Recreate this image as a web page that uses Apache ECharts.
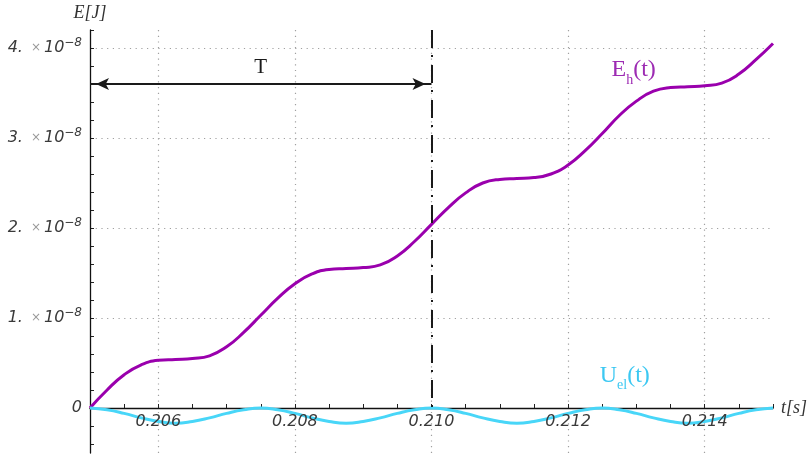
<!DOCTYPE html>
<html>
<head>
<meta charset="utf-8">
<script src="https://cdn.jsdelivr.net/npm/echarts@6/dist/echarts.min.js"></script>
<style>
  html, body { margin: 0; padding: 0; background: #ffffff; }
  #chart { width: 810px; height: 459px; }
</style>
</head>
<body>
<div id="chart"></div>
<script>
// Sample times, s
const time = [
  0.205, 0.20525, 0.2055, 0.20575, 0.206, 0.20625, 0.2065, 0.20675, 0.207, 0.20725,
  0.2075, 0.20775, 0.208, 0.20825, 0.2085, 0.20875, 0.209, 0.20925, 0.2095, 0.20975,
  0.21, 0.21025, 0.2105, 0.21075, 0.211, 0.21125, 0.2115, 0.21175, 0.212, 0.21225,
  0.2125, 0.21275, 0.213, 0.21325, 0.2135, 0.21375, 0.214, 0.21425, 0.2145, 0.21475,
  0.215
];
// Heat dissipated E_h(t), in units of 1e-8 J
const heatEnergy = [
  0, 0.20, 0.37, 0.48, 0.53, 0.54, 0.55, 0.58, 0.68, 0.84,
  1.03, 1.22, 1.38, 1.49, 1.54, 1.55, 1.56, 1.59, 1.69, 1.85,
  2.04, 2.23, 2.39, 2.50, 2.54, 2.55, 2.56, 2.60, 2.70, 2.86,
  3.05, 3.25, 3.41, 3.52, 3.56, 3.57, 3.58, 3.61, 3.71, 3.87,
  4.05
];
// Electric field energy U_el(t), in units of 1e-8 J
const fieldEnergy = [
  0, -0.02, -0.06, -0.11, -0.15, -0.17, -0.15, -0.11, -0.06, -0.02,
  0, -0.02, -0.06, -0.11, -0.15, -0.17, -0.15, -0.11, -0.06, -0.02,
  0, -0.02, -0.06, -0.11, -0.15, -0.17, -0.15, -0.11, -0.06, -0.02,
  0, -0.02, -0.06, -0.11, -0.15, -0.17, -0.15, -0.11, -0.06, -0.02,
  0
];
// Labelled ticks
const xTickLabels = [0.206, 0.208, 0.210, 0.212, 0.214];
const yTickLabels = [0, 1, 2, 3, 4];
// One period T of the current
const period = [0.205, 0.210];

const PURPLE = '#9a00ad';
const CYAN = '#48d6f8';
const LABEL_FONT = 'DejaVu Sans';
const SERIF = 'Liberation Serif';
const dotted = { color: '#a0a0a0', width: 1.2, type: [1.2, 4.5] };

const heatData = time.map((t, i) => [t, heatEnergy[i]]);
const fieldData = time.map((t, i) => [t, fieldEnergy[i]]);

function xLabel(v) {
  return xTickLabels.some(t => Math.abs(t - v) < 1e-7) ? v.toFixed(3) : '';
}
function yLabel(v) {
  const r = Math.round(v);
  if (Math.abs(v - r) > 1e-6 || !yTickLabels.includes(r)) return '';
  if (r === 0) return '{n|0}';
  return '{n|' + r + '.}{x|×}{n|10}{s|−8}';
}

const chart = echarts.init(document.getElementById('chart'), null, { renderer: 'canvas' });

chart.setOption({
  animation: false,
  backgroundColor: '#ffffff',
  grid: [
    // plotting area
    { left: 90, top: 30, width: 683, height: 423, containLabel: false, outerBoundsMode: 'none' },
    // y ticks, y labels, horizontal grid lines, x labels
    { left: 90, top: 30, width: 683, height: 468, containLabel: false, outerBoundsMode: 'none' },
    // vertical grid lines
    { left: 158.3, top: 30, width: 614.7, height: 423, containLabel: false, outerBoundsMode: 'none' }
  ],
  xAxis: [
    {
      gridIndex: 0, type: 'value', min: 0.205, max: 0.215, interval: 0.0005, z: 1,
      axisLine: { show: true, onZero: true, lineStyle: { color: '#111', width: 1.3 } },
      axisTick: { show: true, inside: true, length: 4, lineStyle: { color: '#222', width: 1 } },
      axisLabel: { show: false },
      splitLine: { show: false },
      name: 't[s]', nameLocation: 'end', nameGap: 8,
      nameTextStyle: { fontFamily: SERIF, fontStyle: 'italic', fontSize: 18, color: '#333' }
    },
    {
      // tick labels, lifted from the grid bottom (value -1) up to value 0
      gridIndex: 1, type: 'value', min: 0.205, max: 0.215, interval: 0.0005, z: 5,
      position: 'bottom', offset: -90,
      axisLine: { show: false, onZero: false },
      axisTick: { show: false },
      axisLabel: {
        show: true, formatter: xLabel, margin: 6,
        fontFamily: LABEL_FONT, fontStyle: 'italic', fontSize: 16, color: '#3a3a3a'
      },
      splitLine: { show: false }
    },
    {
      gridIndex: 2, type: 'value', min: 0.206, max: 0.215, interval: 0.002,
      axisLine: { show: false }, axisTick: { show: false }, axisLabel: { show: false },
      splitLine: { show: true, showMinLine: true, showMaxLine: false, lineStyle: dotted }
    }
  ],
  yAxis: [
    {
      gridIndex: 0, type: 'value', min: -0.5, max: 4.2, z: 1,
      axisLine: { show: true, onZero: false, lineStyle: { color: '#111', width: 1.3 } },
      axisTick: { show: false }, axisLabel: { show: false }, splitLine: { show: false },
      name: 'E[J]', nameLocation: 'end', nameGap: 8,
      nameTextStyle: { fontFamily: SERIF, fontStyle: 'italic', fontSize: 18, color: '#333' }
    },
    {
      gridIndex: 1, type: 'value', min: -1, max: 4.2, interval: 1,
      axisLine: { show: false, onZero: false },
      axisTick: { show: true, inside: true, length: 4, lineStyle: { color: '#222', width: 1 } },
      minorTick: { show: true, splitNumber: 5, length: 4, lineStyle: { color: '#222', width: 1 } },
      axisLabel: {
        show: true, formatter: yLabel, margin: 8,
        rich: {
          n: { fontFamily: LABEL_FONT, fontStyle: 'italic', fontSize: 16, color: '#3a3a3a', lineHeight: 22 },
          x: { fontFamily: LABEL_FONT, fontSize: 12, color: '#9a9a9a', lineHeight: 22, padding: [0, 3, 0, 8] },
          s: { fontFamily: LABEL_FONT, fontStyle: 'italic', fontSize: 12, color: '#3a3a3a', lineHeight: 12, verticalAlign: 'top' }
        }
      },
      splitLine: { show: true, showMinLine: false, showMaxLine: false, lineStyle: dotted }
    },
    {
      gridIndex: 2, type: 'value', min: -0.5, max: 4.2, show: false
    }
  ],
  series: [
    {
      name: 'E_h', type: 'line', xAxisIndex: 0, yAxisIndex: 0,
      data: heatData, smooth: true, symbol: 'none', showSymbol: false,
      lineStyle: { color: PURPLE, width: 3 }, z: 3,
      markLine: {
        silent: true, animation: false,
        symbol: ['arrow', 'arrow'], symbolSize: [9, 13], symbolOffset: [[0, 6], [0, 6]],
        lineStyle: { color: '#1a1a1a', width: 2, type: 'solid' },
        label: {
          show: true, formatter: 'T', position: 'middle', distance: 6,
          fontFamily: SERIF, fontSize: 21, color: '#1a1a1a'
        },
        data: [[{ coord: [period[0], 3.6] }, { coord: [period[1], 3.6] }]]
      },
      markPoint: {
        silent: true, animation: false, symbol: 'circle', symbolSize: 1,
        itemStyle: { color: 'rgba(0,0,0,0)' },
        label: {
          show: true, position: 'inside', formatter: '{m|E}{sub|h}{m|(t)}',
          rich: {
            m: { fontFamily: SERIF, fontSize: 24, color: '#9d2bb3', lineHeight: 36 },
            sub: { fontFamily: SERIF, fontSize: 14, color: '#9d2bb3', lineHeight: 12, verticalAlign: 'bottom' }
          }
        },
        data: [{ coord: [0.21296, 3.76] }]
      }
    },
    {
      name: 'U_el', type: 'line', xAxisIndex: 0, yAxisIndex: 0,
      data: fieldData, smooth: true, symbol: 'none', showSymbol: false,
      lineStyle: { color: CYAN, width: 3 }, z: 3,
      markLine: {
        silent: true, animation: false, symbol: ['none', 'none'],
        lineStyle: { color: '#1a1a1a', width: 2, type: [18, 7, 2, 8] },
        label: { show: false },
        data: [[{ coord: [period[1], 4.2] }, { coord: [period[1], 0] }]]
      },
      markPoint: {
        silent: true, animation: false, symbol: 'circle', symbolSize: 1,
        itemStyle: { color: 'rgba(0,0,0,0)' },
        label: {
          show: true, position: 'inside', formatter: '{m|U}{sub|el}{m|(t)}',
          rich: {
            m: { fontFamily: SERIF, fontSize: 24, color: '#3cc8f2', lineHeight: 32 },
            sub: { fontFamily: SERIF, fontSize: 14, color: '#3cc8f2', lineHeight: 12, verticalAlign: 'bottom' }
          }
        },
        data: [{ coord: [0.21283, 0.356] }]
      }
    }
  ]
});
</script>
</body>
</html>
